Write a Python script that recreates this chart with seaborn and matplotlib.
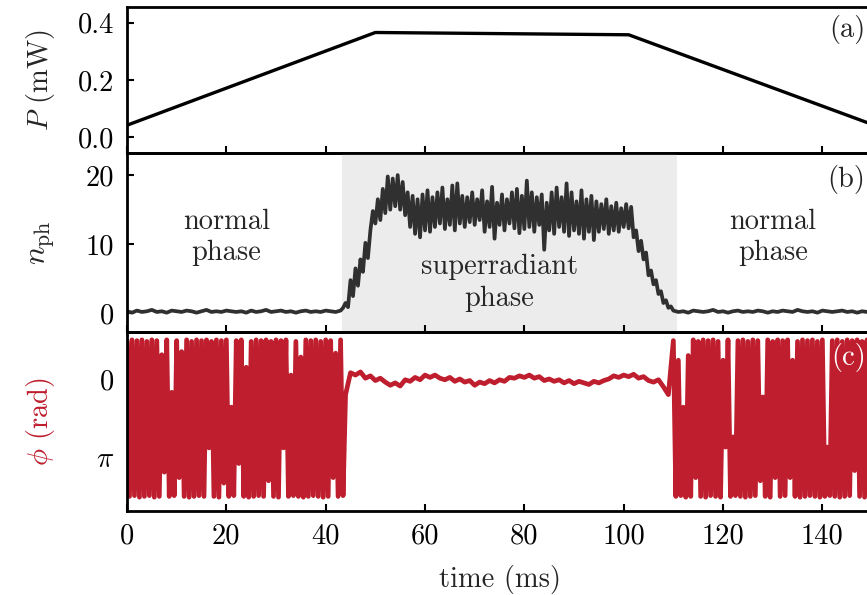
import numpy as np
import matplotlib
matplotlib.use("Agg")
import matplotlib.pyplot as plt
import seaborn as sns

# ---------------- data ----------------
# (a) pump power
p_time = [0.0, 50.0, 101.0, 150.0]
p_vals = [0.042, 0.366, 0.358, 0.045]

# (b) photon number: normal phase (left), superradiant, normal phase (right)
nph_left = [0.3, 0.1, 0.4, 0.2, 0.3, 0.5, 0.2, 0.3, 0.1, 0.4, 0.3, 0.2, 0.4, 0.3, 0.1,
            0.3, 0.5, 0.2, 0.3, 0.2, 0.4, 0.3, 0.2, 0.3, 0.1, 0.4, 0.2, 0.3, 0.5, 0.2,
            0.3, 0.4, 0.2, 0.3, 0.1, 0.3, 0.4, 0.2, 0.3, 0.2, 0.4, 0.3, 0.2]          # t = 0..42 (1 ms)
nph_super = [0.4, 0.8, 1.5, 0.9, 4.8, 2.5, 6.5, 4.0, 7.8, 6.0, 10.2, 8.0, 12.0, 14.8,
             13.0, 16.5, 13.5, 18.0, 14.5, 19.8, 15.0, 19.5, 15.5, 20.0, 15.0, 19.0,
             14.2, 17.5, 12.5, 17.0, 11.5, 16.5, 11.0, 17.2, 12.0, 17.8, 11.8, 16.8,
             12.5, 17.5, 13.0, 18.2, 12.2, 16.5, 12.8, 18.5, 12.0, 18.8, 13.0, 17.0,
             12.5, 16.8, 13.2, 17.5, 12.8, 16.5, 13.5, 17.8, 11.8, 16.2, 12.5, 18.3,
             10.8, 16.0, 12.8, 17.2, 12.0, 16.5, 13.0, 17.5, 12.3, 18.0, 11.6, 17.0,
             12.2, 19.2, 12.5, 17.5, 11.8, 16.8, 12.8, 17.2, 9.2, 16.0, 12.0, 17.5,
             11.5, 18.2, 12.5, 16.8, 11.8, 18.8, 11.2, 17.5, 12.0, 16.2, 11.5, 17.8,
             10.8, 16.5, 11.8, 17.0, 10.6, 16.2, 11.8, 15.8, 12.2, 16.5, 11.5, 15.5,
             12.0, 16.0, 11.8, 15.2, 12.5, 15.8, 12.3, 15.4, 11.0, 12.0, 9.0, 10.5,
             7.8, 8.8, 5.5, 6.2, 4.2, 4.8, 2.8, 3.2, 1.5, 1.9, 0.8, 1.0, 0.4, 0.3]  # t = 43..110.5 (0.5 ms)
nph_right = [0.2, 0.3, 0.1, 0.4, 0.3, 0.2, 0.3, 0.5, 0.2, 0.3, 0.1, 0.3, 0.4, 0.2, 0.3,
             0.2, 0.4, 0.3, 0.1, 0.3, 0.2, 0.4, 0.3, 0.2, 0.5, 0.3, 0.2, 0.3, 0.1, 0.4,
             0.3, 0.2, 0.3, 0.4, 0.2, 0.3, 0.1, 0.3, 0.2, 0.3]                        # t = 111..150 (1 ms)
shade_start, shade_end = 43.2, 110.8

# (c) cavity field phase, in units of pi
phi_left = [-0.48, 1.50, -0.50, 1.49, -0.49, 1.51, -0.50, 1.50, -0.48, 1.49, -0.50, 1.51,
            -0.49, 1.50, -0.31, 1.19, -0.50, 1.50, 0.17, 1.49, -0.49, 1.26, -0.35, 1.50,
            -0.50, 1.51, -0.48, 1.50, -0.50, 1.49, -0.49, 1.50, -0.50, 0.88, -0.48, 1.50,
            -0.50, 1.51, -0.49, 1.33, -0.50, 1.50, 0.36, 1.49, -0.49, 1.08, -0.50, 1.50,
            -0.15, 1.51, -0.48, 1.50, -0.50, 1.49, -0.49, 1.50, -0.50, 1.30, -0.48, 1.50,
            -0.50, 1.51, -0.49, 0.88, -0.50, 1.50, -0.05, 1.49, -0.48, 1.50, -0.28, 1.51,
            -0.50, 1.50, -0.49, 1.49, -0.50, 1.50, -0.48, 1.51, -0.50, 1.50, -0.49, 1.26,
            -0.33, 1.50, -0.50, 1.49]                                                   # t = 0..43.5 (0.5 ms)
phi_super = [0.20, -0.08, -0.05, -0.09, -0.01, -0.04, 0.02, -0.01, 0.04, 0.08, 0.05, 0.09,
             0.01, 0.03, -0.02, 0.01, -0.05, -0.02, -0.05, -0.01, 0.01, -0.02, 0.03, 0.00,
             0.04, 0.02, 0.08, 0.04, 0.06, 0.02, 0.05, 0.01, 0.03, -0.02, -0.01, -0.04,
             -0.02, -0.05, -0.01, -0.03, 0.02, 0.00, 0.03, 0.01, 0.05, 0.02, 0.06, 0.03,
             0.05, 0.07, 0.03, 0.05, 0.02, 0.00, -0.04, -0.02, -0.05, -0.03, -0.06, -0.01,
             -0.03, 0.02, 0.04, 0.01, 0.10, 0.20]                                      # t = 44..109 (1 ms)
phi_right = [-0.49, 1.50, -0.24, 1.49, 0.36, 1.51, -0.30, 1.50, -0.50, 1.26, -0.48, 1.50,
             -0.50, 1.51, -0.49, 1.49, -0.50, 1.50, -0.48, 1.51, -0.24, 0.87, -0.50, 1.50,
             0.74, 1.49, -0.49, 1.50, -0.50, 1.51, -0.48, 1.50, -0.50, 1.49, -0.49, 1.30,
             0.23, 1.50, -0.50, 1.51, -0.48, 1.26, -0.50, 1.50, -0.49, 1.49, -0.50, 1.26,
             -0.24, 1.50, -0.48, 1.51, -0.50, 1.50, -0.49, 1.49, -0.50, 1.50, -0.48, 1.51,
             -0.50, 1.50, 0.87, 1.49, -0.49, 1.50, -0.50, 1.51, -0.48, 1.50, -0.50, 1.49,
             -0.49, 1.17, -0.50, 1.50, -0.48, 1.51, -0.50, 1.50, -0.49]               # t = 110..150 (0.5 ms)

x_ticks = [0, 20, 40, 60, 80, 100, 120, 140]
p_ticks = [0.0, 0.2, 0.4]
p_ticklabels = ["0.0", "0.2", "0.4"]
nph_ticks = [0, 10, 20]
phi_ticks_pi = [0, 1]
phi_ticklabels = ["0", r"$\pi$"]

# ---------------- assemble time axes ----------------
t_nph = np.concatenate([np.arange(len(nph_left)) * 1.0,
                        43.0 + 0.5 * np.arange(len(nph_super)),
                        111.0 + 1.0 * np.arange(len(nph_right))])
nph = np.concatenate([nph_left, nph_super, nph_right])
t_phi = np.concatenate([0.5 * np.arange(len(phi_left)),
                        44.0 + 1.0 * np.arange(len(phi_super)),
                        110.0 + 0.5 * np.arange(len(phi_right))])
phi = np.concatenate([phi_left, phi_super, phi_right]) * np.pi

# ---------------- style ----------------
sns.set_style("ticks")
plt.rcParams["font.family"] = ["cmr10", "DejaVu Serif"]
plt.rcParams["mathtext.fontset"] = "cm"
plt.rcParams["axes.unicode_minus"] = False
plt.rcParams["axes.formatter.use_mathtext"] = True

FS = 20.5
RED = "#be1e2d"
GRAY = "#303030"

fig = plt.figure(figsize=(8.67, 5.95), dpi=100)
L, W = 0.1465, 0.8593
ax_a = fig.add_axes([L, 0.7429, W, 0.2453])
ax_b = fig.add_axes([L, 0.4420, W, 0.3009])
ax_c = fig.add_axes([L, 0.1420, W, 0.3000])

sns.lineplot(x=p_time, y=p_vals, ax=ax_a, color="black", linewidth=2.4, estimator=None)
ax_b.axvspan(shade_start, shade_end, color="#ececec", lw=0, zorder=0)
sns.lineplot(x=t_nph, y=nph, ax=ax_b, color=GRAY, linewidth=2.7, estimator=None, sort=False)
sns.lineplot(x=t_phi, y=phi, ax=ax_c, color=RED, linewidth=3.4, estimator=None, sort=False)

for ax in (ax_a, ax_b, ax_c):
    ax.set_xlim(0, 150)
    ax.set_xticks(x_ticks)
    ax.tick_params(axis="both", which="both", direction="in", length=5, width=1.5,
                   labelsize=FS, pad=9, top=False, right=False, colors="black")
    for s in ax.spines.values():
        s.set_linewidth(2.0)
        s.set_color("black")
    ax.set_xlabel("")
    ax.set_facecolor("none")

ax_a.tick_params(axis="x", labelbottom=False)
ax_b.tick_params(axis="x", labelbottom=False)
ax_c.set_xticklabels([str(v) for v in x_ticks])
ax_c.set_xlabel("time (ms)", fontsize=FS, labelpad=11)

ax_a.set_ylim(-0.055, 0.455)
ax_a.set_yticks(p_ticks)
ax_a.set_yticklabels(p_ticklabels)
ax_a.set_ylabel(r"$P$ (mW)", fontsize=FS)

ax_b.set_ylim(-2.7, 23.2)
ax_b.set_yticks(nph_ticks)
ax_b.set_yticklabels([str(v) for v in nph_ticks])
ax_b.set_ylabel(r"$n_{\rm ph}$", fontsize=FS + 2)

ax_c.set_ylim(1.68 * np.pi, -0.6 * np.pi)
ax_c.set_yticks([v * np.pi for v in phi_ticks_pi])
ax_c.set_yticklabels(phi_ticklabels)
ax_c.set_ylabel(r"$\phi$ (rad)", fontsize=FS, color=RED)

for ax in (ax_a, ax_b, ax_c):
    ax.yaxis.set_label_coords(-0.094, 0.5)

ax_a.text(148.7, 0.375, "(a)", ha="right", va="center", fontsize=FS)
ax_b.text(148.7, 19.3, "(b)", ha="right", va="center", fontsize=FS)
ax_c.text(148.7, -0.27 * np.pi, "(c)", ha="right", va="center", fontsize=FS, color="white")

ax_b.text(20, 11.0, "normal\nphase", ha="center", va="center", fontsize=FS, linespacing=1.25)
ax_b.text(75, 4.4, "superradiant\nphase", ha="center", va="center", fontsize=FS, linespacing=1.25)
ax_b.text(130, 11.0, "normal\nphase", ha="center", va="center", fontsize=FS, linespacing=1.25)

fig.savefig("out.png", dpi=100)
